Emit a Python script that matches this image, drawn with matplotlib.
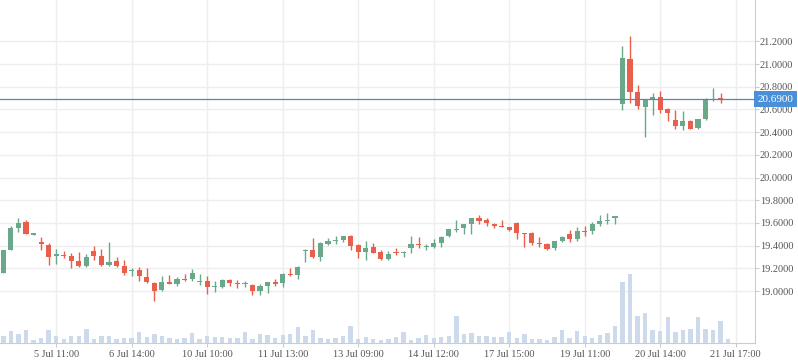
import matplotlib
matplotlib.use("Agg")
import matplotlib.pyplot as plt
import matplotlib.transforms as mtransforms
import numpy as np

# hourly candles
opens = [19.16, 19.36, 19.555, 19.608, 19.496, 19.432, 19.405, 19.311, 19.317, 19.308,
         19.264, 19.217, 19.352, 19.308, 19.229, 19.264, 19.22, 19.182, 19.185, 19.123,
         19.068, 19.009, 19.076, 19.065, 19.103, 19.106, 19.085, 19.085, 19.038, 19.038,
         19.094, 19.073, 19.068, 19.053, 19.003, 19.047, 19.076, 19.073, 19.147, 19.138,
         19.349, 19.358, 19.303, 19.414, 19.446, 19.449, 19.488, 19.402, 19.347, 19.388,
         19.344, 19.285, 19.345, 19.342, 19.38, 19.412, 19.392, 19.388, 19.426, 19.487,
         19.542, 19.554, 19.588, 19.641, 19.623, 19.591, 19.571, 19.562, 19.597, 19.51,
         19.51, 19.423, 19.412, 19.383, 19.443, 19.501, 19.461, 19.53, 19.53, 19.591,
         19.617, 19.643, 20.651, 21.044, 20.754, 20.624, 20.692, 20.71, 20.604, 20.504,
         20.457, 20.498, 20.439, 20.516, 20.686, 20.698, 20.69]
highs = [19.36, 19.57, 19.643, 19.626, 19.511, 19.476, 19.423, 19.37, 19.35, 19.332,
         19.344, 19.323, 19.396, 19.37, 19.432, 19.30, 19.273, 19.206, 19.208, 19.203,
         19.076, 19.132, 19.141, 19.12, 19.147, 19.194, 19.15, 19.132, 19.088, 19.106,
         19.106, 19.097, 19.088, 19.062, 19.059, 19.076, 19.106, 19.159, 19.203, 19.223,
         19.367, 19.467, 19.432, 19.467, 19.485, 19.482, 19.496, 19.411, 19.44, 19.42,
         19.361, 19.35, 19.377, 19.354, 19.484, 19.475, 19.412, 19.458, 19.487, 19.545,
         19.623, 19.588, 19.646, 19.667, 19.646, 19.597, 19.623, 19.568, 19.606, 19.51,
         19.519, 19.475, 19.42, 19.441, 19.484, 19.536, 19.565, 19.571, 19.606, 19.667,
         19.69, 19.664, 21.159, 21.247, 20.812, 20.69, 20.745, 20.762, 20.613, 20.592,
         20.586, 20.504, 20.516, 20.704, 20.792, 20.745, 20.69]
lows = [19.16, 19.36, 19.523, 19.50, 19.496, 19.364, 19.229, 19.24, 19.294, 19.206,
        19.209, 19.209, 19.27, 19.217, 19.22, 19.211, 19.141, 19.132, 19.088, 19.07,
        18.915, 19.0, 19.065, 19.047, 19.088, 19.088, 19.053, 18.974, 18.994, 19.03,
        19.047, 19.03, 19.038, 18.965, 18.965, 18.979, 19.047, 19.038, 19.132, 19.106,
        19.252, 19.291, 19.267, 19.408, 19.411, 19.435, 19.364, 19.294, 19.273, 19.335,
        19.273, 19.27, 19.319, 19.304, 19.336, 19.38, 19.357, 19.377, 19.391, 19.478,
        19.522, 19.501, 19.501, 19.591, 19.574, 19.557, 19.568, 19.53, 19.461, 19.385,
        19.409, 19.386, 19.365, 19.357, 19.435, 19.435, 19.443, 19.487, 19.501, 19.574,
        19.591, 19.591, 20.598, 20.657, 20.607, 20.354, 20.554, 20.571, 20.501, 20.43,
        20.422, 20.425, 20.43, 20.507, 20.674, 20.657, 20.69]
closes = [19.36, 19.555, 19.596, 19.502, 19.511, 19.417, 19.302, 19.326, 19.305, 19.267,
          19.22, 19.297, 19.308, 19.229, 19.253, 19.22, 19.162, 19.188, 19.135, 19.079,
          19.003, 19.076, 19.065, 19.103, 19.094, 19.159, 19.09, 19.038, 19.044, 19.097,
          19.073, 19.068, 19.071, 19.003, 19.041, 19.076, 19.062, 19.15, 19.138, 19.211,
          19.361, 19.30, 19.423, 19.44, 19.449, 19.482, 19.40, 19.347, 19.379, 19.335,
          19.282, 19.326, 19.34, 19.345, 19.414, 19.406, 19.394, 19.423, 19.478, 19.545,
          19.545, 19.588, 19.641, 19.617, 19.60, 19.571, 19.568, 19.539, 19.51, 19.507,
          19.426, 19.42, 19.374, 19.441, 19.475, 19.461, 19.528, 19.525, 19.588, 19.614,
          19.62, 19.664, 21.053, 20.754, 20.633, 20.686, 20.71, 20.598, 20.571, 20.457,
          20.495, 20.43, 20.516, 20.692, 20.692, 20.692, 20.69]
volumes = [67, 117, 87, 127, 27, 47, 127, 67, 37, 67,
           67, 137, 37, 67, 67, 37, 47, 47, 107, 57,
           87, 67, 47, 37, 47, 97, 37, 67, 57, 57,
           47, 47, 107, 37, 87, 77, 47, 77, 87, 157,
           67, 127, 47, 37, 47, 67, 167, 37, 57, 37,
           27, 37, 57, 107, 27, 47, 77, 47, 57, 67,
           267, 87, 97, 67, 67, 57, 57, 107, 47, 87,
           37, 37, 27, 57, 127, 47, 117, 67, 47, 77,
           97, 167, 610, 690, 273, 300, 130, 120, 263, 110,
           130, 140, 260, 140, 130, 220, 40]

last_price = 20.69
tick_labels = ['5 Jul 11:00', '6 Jul 14:00', '10 Jul 10:00', '11 Jul 13:00', '13 Jul 09:00',
               '14 Jul 12:00', '17 Jul 15:00', '19 Jul 11:00', '20 Jul 14:00', '21 Jul 17:00']
first_label = 7
label_step = 10
price_ticks = [19.0, 19.2, 19.4, 19.6, 19.8, 20.0, 20.2, 20.4, 20.6, 20.8, 21.0, 21.2]

UP = '#6aa88a'
DOWN = '#e95f4c'
GRID = '#eeeeee'
TEXT = '#555555'

plt.rcParams['font.family'] = ['Liberation Serif', 'DejaVu Serif']

fig = plt.figure(figsize=(7.98, 3.63), dpi=100)
ax = fig.add_axes([0, 20 / 363, 755 / 798, 343 / 363])

o = np.array(opens)
h = np.array(highs)
l = np.array(lows)
c = np.array(closes)
x = np.arange(len(o))
colors = [UP if cc >= oo else DOWN for oo, cc in zip(o, c)]

# volume bars in the lower part
vax = ax.twinx()
vax.bar(x, volumes, width=0.58, color='#cddaec', zorder=1)
vax.set_ylim(0, max(volumes) * 5)
vax.set_yticks([])
for s in vax.spines.values():
    s.set_visible(False)

# candles (flat ones get a 1px body centred on the price)
min_h = 0.009
ax.vlines(x, l, h, colors=colors, linewidth=1, zorder=3)
body_h = np.abs(c - o)
mid = (o + c) / 2
body_h = np.maximum(body_h, min_h)
ax.bar(x, body_h, bottom=mid - body_h / 2, width=0.68, color=colors, zorder=4)

ax.set_xlim(-0.44, 99.55)
ax.set_ylim(18.542, 21.564)

tick_pos = [first_label + label_step * k for k in range(len(tick_labels))]
ax.set_xticks(tick_pos)
ax.set_xticklabels(tick_labels)
ax.set_yticks(price_ticks)
ax.set_yticklabels(['%.4f' % v for v in price_ticks])
ax.yaxis.tick_right()
ax.grid(True, color=GRID, linewidth=1)
ax.set_axisbelow(True)
ax.tick_params(axis='x', length=3, color='#cccccc', labelsize=7.4, labelcolor=TEXT, pad=2)
ax.tick_params(axis='y', length=3, color='#cccccc', labelsize=7.4, labelcolor=TEXT, pad=0.5)
for side in ['left', 'top']:
    ax.spines[side].set_visible(False)
ax.spines['right'].set_color('#cccccc')
ax.spines['bottom'].set_color('#cccccc')

# current price line and tag
ax.axhline(last_price, color='#5b84b4', linewidth=0.9, zorder=5)
trans = mtransforms.blended_transform_factory(ax.transAxes, ax.transData)
ax.text(1.003, last_price, '%.4f' % last_price, transform=trans, ha='left', va='center',
        fontsize=8, color='white', zorder=6, clip_on=False,
        bbox=dict(boxstyle='square,pad=0.32', fc='#4a90d9', ec='none'))

fig.savefig('out.png', dpi=100)
